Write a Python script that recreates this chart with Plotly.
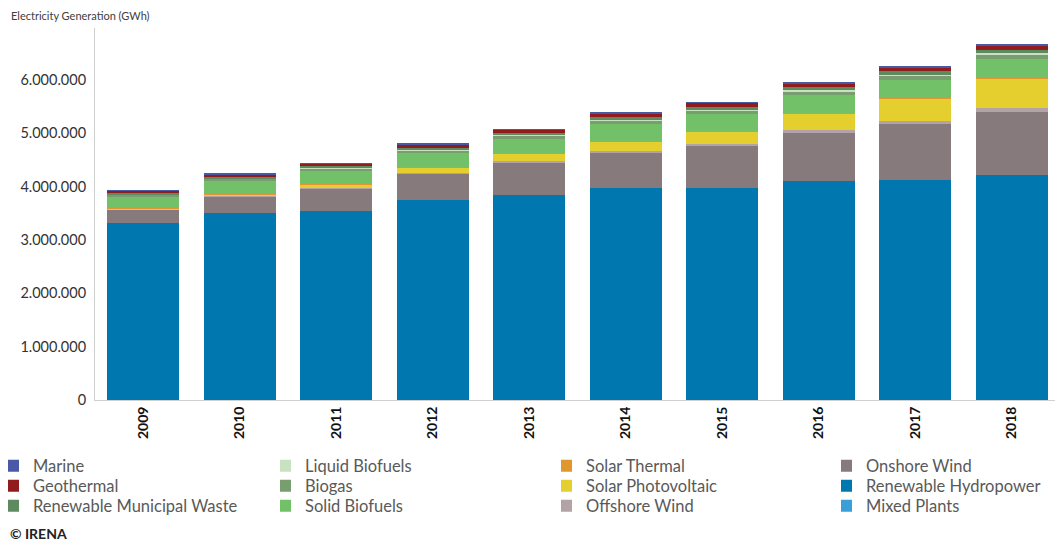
import plotly.graph_objects as go

years = ["2009", "2010", "2011", "2012", "2013", "2014", "2015", "2016", "2017", "2018"]

# values in GWh
mixed_plants = [0, 0, 0, 0, 0, 0, 0, 0, 0, 0]
hydropower = [3310000, 3500000, 3550000, 3740000, 3850000, 3970000, 3970000, 4100000, 4115000, 4210000]
onshore_wind = [260000, 317000, 410000, 500000, 600000, 666000, 790000, 910000, 1058000, 1190000]
offshore_wind = [5000, 8000, 15000, 20000, 25000, 30000, 35000, 40000, 60000, 65000]
solar_pv = [20000, 32000, 60000, 93000, 138000, 174000, 230000, 317000, 420000, 560000]
solar_thermal = [2000, 2000, 3000, 4000, 6000, 8000, 10000, 10000, 12000, 12000]
solid_biofuels = [220000, 254000, 248000, 280000, 280000, 330000, 330000, 340000, 336000, 360000]
biogas = [30000, 30000, 45000, 45000, 51000, 61000, 61000, 70000, 75000, 80000]
liquid_biofuels = [5000, 6000, 8000, 8000, 10000, 12000, 12000, 14000, 15000, 18000]
municipal_waste = [25000, 27000, 40000, 40000, 45000, 52000, 52000, 60000, 65000, 70000]
geothermal = [40000, 50000, 45000, 60000, 60000, 65000, 75000, 75000, 80000, 80000]
marine = [10000, 10000, 10000, 10000, 10000, 10000, 10000, 10000, 10000, 10000]

y_tick_values = [0, 1000000, 2000000, 3000000, 4000000, 5000000, 6000000]
y_tick_labels = ["0", "1.000.000", "2.000.000", "3.000.000", "4.000.000", "5.000.000", "6.000.000"]

# stacking order bottom -> top; (column, row) of each legend entry
series = [
    ("Mixed Plants", mixed_plants, "#3a9fd8", (3, 2)),
    ("Renewable Hydropower", hydropower, "#0077ae", (3, 1)),
    ("Onshore Wind", onshore_wind, "#877a7d", (3, 0)),
    ("Offshore Wind", offshore_wind, "#b3a3a6", (2, 2)),
    ("Solar Photovoltaic", solar_pv, "#e5cf2e", (2, 1)),
    ("Solar Thermal", solar_thermal, "#e0972e", (2, 0)),
    ("Solid Biofuels", solid_biofuels, "#72c068", (1, 2)),
    ("Biogas", biogas, "#789e70", (1, 1)),
    ("Liquid Biofuels", liquid_biofuels, "#c6e2c0", (1, 0)),
    ("Renewable Municipal Waste", municipal_waste, "#5e8a60", (0, 2)),
    ("Geothermal", geothermal, "#901c1c", (0, 1)),
    ("Marine", marine, "#4a58a8", (0, 0)),
]

W, H = 1055, 534      # page body has an 8px margin
OFF = 8
FONT = "Lato"
LEG_FONT = "Lato"

col_text_x = [25, 305, 586, 866]   # screen x where legend text starts
row_y = [466, 486, 506]            # screen y of legend row centres
INDENT = -15

fig = go.Figure()
legends = {}
for i, (name, vals, color, (c, r)) in enumerate(series):
    key = "legend" if i == 0 else f"legend{i + 1}"
    fig.add_trace(go.Bar(
        x=years, y=vals, name=name,
        marker=dict(color=color, line=dict(width=0)),
        legend=key,
    ))
    lx = max(0.0, (col_text_x[c] - 40 - INDENT - OFF) / W)
    ly = 1 - (row_y[r] - OFF) / H
    legends[key] = dict(
        orientation="h",
        xref="container", yref="container",
        x=lx, y=ly, xanchor="left", yanchor="middle",
        indentation=INDENT,
        font=dict(family=LEG_FONT, size=16.5, color="#595959"),
        bgcolor="rgba(0,0,0,0)", borderwidth=0,
        itemclick=False, itemdoubleclick=False,
    )

fig.update_layout(
    barmode="stack",
    bargap=0.25,
    width=W, height=H,
    margin=dict(l=87, r=3, t=20, b=142, autoexpand=False),
    paper_bgcolor="white",
    plot_bgcolor="white",
    font=dict(family=FONT, color="#404040"),
    showlegend=True,
    xaxis=dict(
        showline=True, linecolor="#d0d0d0", linewidth=1,
        ticks="", tickangle=-90,
        tickfont=dict(family=FONT, size=14, color="#111111", weight="bold"),
        showgrid=False,
    ),
    yaxis=dict(
        range=[0, 6970000],
        showline=True, linecolor="#d0d0d0", linewidth=1,
        tickvals=y_tick_values, ticktext=y_tick_labels,
        tickfont=dict(family=FONT, size=14.5, color="#333333"),
        ticklabelstandoff=5,
        showgrid=False, zeroline=False, ticks="",
    ),
    annotations=[
        dict(text="Electricity Generation (GWh)", xref="paper", yref="paper",
             x=0, y=1, xshift=-86, yshift=13, xanchor="left", yanchor="middle",
             showarrow=False, font=dict(family=FONT, size=11, color="#404040")),
        dict(text="<b>© IRENA</b>", xref="paper", yref="paper",
             x=0, y=0, xshift=-87, yshift=-133, xanchor="left", yanchor="middle",
             showarrow=False, font=dict(family=FONT, size=14, color="#222222")),
    ],
    **legends,
)

fig.write_html("out.html")
